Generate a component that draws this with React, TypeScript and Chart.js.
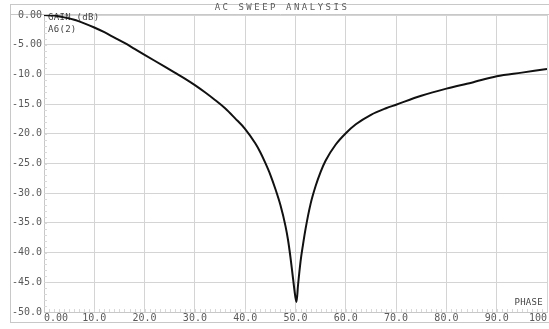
import { useEffect, useRef } from "react";
import { Chart, registerables } from "chart.js";

Chart.register(...registerables);

// Sweep samples: phase (x) and gain in dB (y)
const phase = [
  0, 2, 4, 6, 8, 10, 12, 14, 16, 18, 20, 22, 24, 26, 28, 30, 32, 34, 36, 38, 40,
  42, 43, 44, 45, 46, 47, 48, 48.5, 49, 49.5, 50, 50.2, 50.5, 51, 51.5, 52, 53,
  54, 55, 56, 58, 60, 62, 65, 68, 70, 75, 80, 85, 90, 95, 100,
];
const gainDb = [
  0, -0.1, -0.4, -0.8, -1.4, -2.1, -2.9, -3.8, -4.7, -5.7, -6.7, -7.7, -8.7,
  -9.7, -10.7, -11.8, -13.0, -14.3, -15.7, -17.4, -19.2, -21.6, -23.1, -24.9,
  -26.9, -29.3, -32.0, -35.5, -37.8, -40.8, -44.3, -47.6, -48.3, -45.5, -41.5,
  -38.6, -36.0, -31.8, -28.8, -26.4, -24.5, -21.8, -19.9, -18.4, -16.8, -15.7,
  -15.1, -13.6, -12.4, -11.4, -10.3, -9.7, -9.1,
];

const xTickLabels = ["0.00", "10.0", "20.0", "30.0", "40.0", "50.0", "60.0", "70.0", "80.0", "90.0", "100"];
const yTickLabels = ["0.00", "-5.00", "-10.0", "-15.0", "-20.0", "-25.0", "-30.0", "-35.0", "-40.0", "-45.0", "-50.0"];

const titleText = "AC SWEEP ANALYSIS";
const traceLabels = ["GAIN (dB)", "A6(2)"];
const xAxisName = "PHASE";

const MONO = '"DejaVu Sans Mono", "Liberation Mono", monospace';
const GRID = "#d4d4d4";
const FRAME = "#c8c8c8";
const TEXT = "#5a5a5a";

const decorPlugin = {
  id: "decor",
  beforeDraw(chart: any) {
    const { ctx, width, height } = chart;
    ctx.save();
    ctx.fillStyle = "#fff";
    ctx.fillRect(0, 0, width, height);
    // outer frame and title strip
    ctx.strokeStyle = FRAME;
    ctx.lineWidth = 1;
    ctx.strokeRect(10.5, 4.5, 541, 318);
    ctx.beginPath();
    ctx.moveTo(10.5, 14.5);
    ctx.lineTo(552, 14.5);
    ctx.stroke();
    ctx.fillStyle = TEXT;
    ctx.font = `9px ${MONO}`;
    (ctx as any).letterSpacing = "2.5px";
    ctx.textAlign = "center";
    ctx.textBaseline = "middle";
    ctx.fillText(titleText, 282, 8);
    ctx.restore();
  },
  beforeDatasetsDraw(chart: any) {
    const { ctx, chartArea, scales } = chart;
    const xs = scales.x;
    const ys = scales.y;
    ctx.save();
    // minor tick marks along the axes
    ctx.strokeStyle = "#d8d8d8";
    ctx.lineWidth = 1;
    ctx.beginPath();
    for (let v = 1; v < 100; v++) {
      const px = Math.round(xs.getPixelForValue(v)) + 0.5;
      ctx.moveTo(px, chartArea.bottom);
      ctx.lineTo(px, chartArea.bottom - 3);
    }
    for (let v = -49; v < 0; v++) {
      const py = Math.round(ys.getPixelForValue(v)) + 0.5;
      ctx.moveTo(chartArea.left, py);
      ctx.lineTo(chartArea.left + 3, py);
    }
    ctx.stroke();
    // trace and axis captions
    ctx.fillStyle = "#444";
    ctx.font = `9px ${MONO}`;
    (ctx as any).letterSpacing = "0.3px";
    ctx.textBaseline = "middle";
    ctx.textAlign = "left";
    ctx.fillText(traceLabels[0], chartArea.left + 4, chartArea.top + 3);
    ctx.fillText(traceLabels[1], chartArea.left + 4, chartArea.top + 15);
    ctx.textAlign = "right";
    ctx.fillText(xAxisName, chartArea.right - 4, chartArea.bottom - 9);
    ctx.restore();
  },
};

export default function App() {
  const canvasRef = useRef<HTMLCanvasElement | null>(null);

  useEffect(() => {
    const canvas = canvasRef.current;
    if (!canvas) return;
    const chart = new Chart(canvas, {
      type: "line",
      data: {
        datasets: [
          {
            label: traceLabels[0],
            data: phase.map((x, i) => ({ x, y: gainDb[i] })),
            borderColor: "#111",
            borderWidth: 2,
            pointRadius: 0,
            fill: false,
            cubicInterpolationMode: "monotone",
          },
        ],
      },
      options: {
        animation: false,
        responsive: false,
        maintainAspectRatio: false,
        devicePixelRatio: 1,
        layout: { padding: { top: 15, right: 2, left: 0, bottom: 0 } },
        plugins: {
          legend: { display: false },
          tooltip: { enabled: false },
          title: { display: false },
        },
        scales: {
          x: {
            type: "linear",
            min: 0,
            max: 100,
            afterFit: (s: any) => {
              s.height = 17;
            },
            ticks: {
              stepSize: 10,
              autoSkip: false,
              maxRotation: 0,
              align: "inner",
              padding: 0,
              color: TEXT,
              font: { family: MONO, size: 10 },
              callback: (v: any) => xTickLabels[Math.round(Number(v) / 10)] ?? "",
            },
            grid: { color: GRID, drawTicks: false },
            border: { color: FRAME },
          },
          y: {
            type: "linear",
            min: -50,
            max: 0,
            afterFit: (s: any) => {
              s.width = 44;
            },
            ticks: {
              stepSize: 5,
              autoSkip: false,
              padding: 2,
              color: TEXT,
              font: { family: MONO, size: 10 },
              callback: (v: any) => yTickLabels[Math.round(-Number(v) / 5)] ?? "",
            },
            grid: { color: GRID, drawTicks: false },
            border: { color: FRAME },
          },
        },
      } as any,
      plugins: [decorPlugin],
    });
    return () => chart.destroy();
  }, []);

  return (
    <div style={{ position: "fixed", left: 0, top: 0, width: 549, height: 329, background: "#fff" }}>
      <canvas ref={canvasRef} width={549} height={329} style={{ display: "block", width: 549, height: 329 }} />
    </div>
  );
}
